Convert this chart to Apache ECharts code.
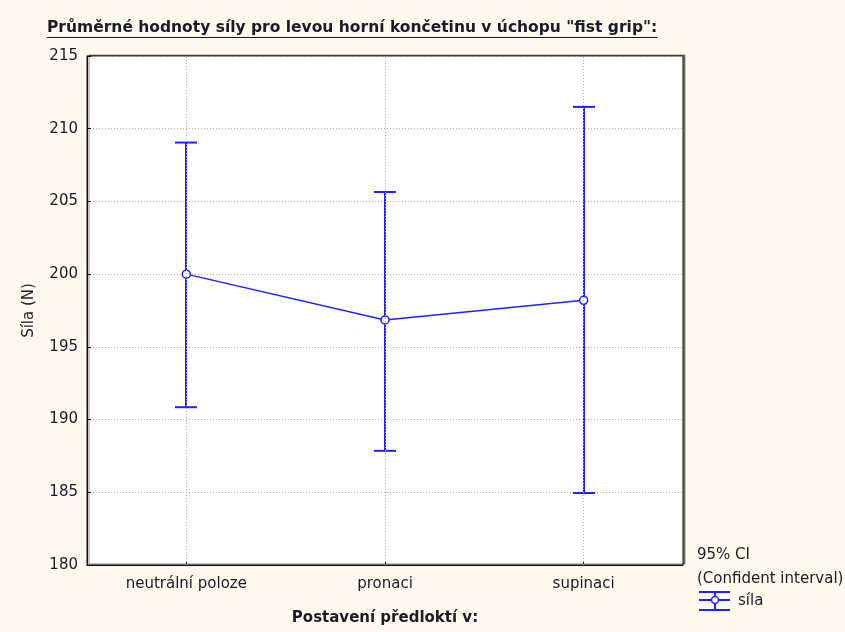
<!DOCTYPE html>
<html><head><meta charset="utf-8">
<script src="https://cdn.jsdelivr.net/npm/echarts@6/dist/echarts.min.js"></script>
<style>html,body{margin:0;padding:0;background:#fff9ee;}#c{width:845px;height:632px;}</style>
</head><body><div id="c"></div>
<script>
const categories = ['neutrální poloze', 'pronaci', 'supinaci'];
const means = [200.0, 196.85, 198.2];
const upper = [209.05, 205.65, 211.5];
const lower = [190.85, 187.85, 184.95];
const yTicks = [180, 185, 190, 195, 200, 205, 210, 215];

const FONT = '"DejaVu Sans", "Liberation Sans", Arial, sans-serif';
const BLUE = '#2121ff';
const TXT = '#1a1a2a';
const titleText = 'Průměrné hodnoty síly pro levou horní končetinu v úchopu "fist grip":';

function measure(t, f) {
  const c = document.createElement('canvas').getContext('2d');
  c.font = f; return c.measureText(t).width;
}
const TITLE_SIZE = 15.5;
const titleFont = 'bold ' + TITLE_SIZE + 'px ' + FONT;
const titleW = measure(titleText, titleFont);

const chart = echarts.init(document.getElementById('c'), null, {renderer: 'canvas'});
const errData = categories.map((c, i) => [i, lower[i], upper[i]]);

chart.setOption({
  backgroundColor: '#fff9ee',
  animation: false,
  title: {
    text: titleText, left: 47, top: 20, padding: 0,
    textStyle: {fontFamily: FONT, fontSize: TITLE_SIZE, fontWeight: 'bold', color: TXT}
  },
  graphic: [
    {type: 'line', shape: {x1: 47, y1: 37.5, x2: 47 + titleW, y2: 37.5}, style: {stroke: TXT, lineWidth: 1}},
    {type: 'text', x: 697, y: 555, style: {text: '95% CI', font: '15px ' + FONT, fill: TXT, verticalAlign: 'middle'}},
    {type: 'text', x: 697, y: 579, style: {text: '(Confident interval)', font: '15px ' + FONT, fill: TXT, verticalAlign: 'middle'}},
    {type: 'group', x: 699, y: 591, children: [
      {type: 'line', shape: {x1: 0, y1: 1, x2: 31, y2: 1}, style: {stroke: BLUE, lineWidth: 2}},
      {type: 'line', shape: {x1: 0, y1: 9, x2: 31, y2: 9}, style: {stroke: BLUE, lineWidth: 2}},
      {type: 'line', shape: {x1: 0, y1: 19, x2: 31, y2: 19}, style: {stroke: BLUE, lineWidth: 2}},
      {type: 'line', shape: {x1: 16, y1: 0, x2: 16, y2: 20}, style: {stroke: BLUE, lineWidth: 2}},
      {type: 'circle', shape: {cx: 16, cy: 9, r: 3.5}, style: {fill: '#fff', stroke: BLUE, lineWidth: 1.5}}
    ]},
    {type: 'text', x: 738, y: 601, style: {text: 'síla', font: '15px ' + FONT, fill: TXT, verticalAlign: 'middle'}}
  ],
  grid: {
    left: 87, right: 162, top: 56, bottom: 67,
    show: true, backgroundColor: '#ffffff', borderColor: '#111', borderWidth: 1,
    shadowColor: 'rgba(0,0,0,0.45)', shadowBlur: 0, shadowOffsetX: 2, shadowOffsetY: -1
  },
  xAxis: {
    type: 'category', data: categories, boundaryGap: true,
    name: 'Postavení předloktí v:', nameLocation: 'middle', nameGap: 46,
    nameTextStyle: {fontFamily: FONT, fontSize: 15, fontWeight: 'bold', color: TXT},
    axisLine: {lineStyle: {color: '#111', width: 1}},
    axisTick: {show: true, inside: true, alignWithLabel: true, length: 4, lineStyle: {color: '#111'}},
    axisLabel: {fontFamily: FONT, fontSize: 15, color: TXT, margin: 12},
    splitLine: {show: false}
  },
  yAxis: {
    type: 'value', min: 180, max: 215, interval: 5,
    name: 'Síla (N)', nameLocation: 'middle', nameGap: 50, nameRotate: 90,
    nameTextStyle: {fontFamily: FONT, fontSize: 15, color: TXT},
    axisLine: {show: true, lineStyle: {color: '#111', width: 1}},
    axisTick: {show: true, inside: true, length: 4, lineStyle: {color: '#111'}},
    axisLabel: {fontFamily: FONT, fontSize: 15, color: TXT, margin: 9,
      formatter: v => yTicks.includes(v) ? String(v) : ''},
    splitLine: {show: true, lineStyle: {color: '#b0b0b0', type: [1, 2], width: 1}}
  },
  series: [
    {
      type: 'line', data: [], silent: true,
      markLine: {
        silent: true, symbol: 'none', label: {show: false},
        lineStyle: {color: '#b0b0b0', type: [1, 2], width: 1},
        data: categories.map(c => ({xAxis: c}))
      }
    },
    {
      type: 'custom', data: errData, z: 3,
      renderItem: function (params, api) {
        const x = api.value(0);
        const lo = api.coord([x, api.value(1)]);
        const hi = api.coord([x, api.value(2)]);
        const cx = Math.round(lo[0]);
        const hw = 11;
        const st = {stroke: BLUE, lineWidth: 2};
        return {type: 'group', children: [
          {type: 'line', shape: {x1: cx, y1: lo[1], x2: cx, y2: hi[1]}, style: st},
          {type: 'line', shape: {x1: cx - hw, y1: lo[1], x2: cx + hw, y2: lo[1]}, style: st},
          {type: 'line', shape: {x1: cx - hw, y1: hi[1], x2: cx + hw, y2: hi[1]}, style: st}
        ]};
      }
    },
    {
      type: 'line', data: means, z: 4,
      symbol: 'circle', symbolSize: 8, showSymbol: true,
      lineStyle: {color: BLUE, width: 1.5},
      itemStyle: {color: '#ffffff', borderColor: BLUE, borderWidth: 1.5}
    }
  ]
});
</script></body></html>
